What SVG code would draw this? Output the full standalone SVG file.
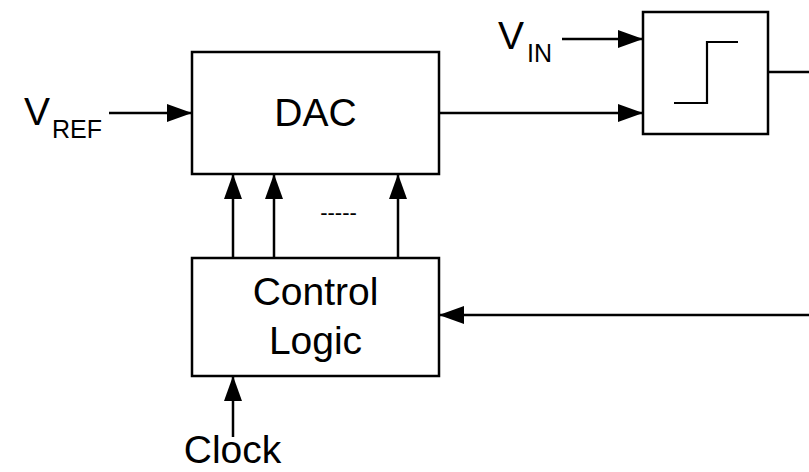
<svg xmlns="http://www.w3.org/2000/svg" width="809" height="472" viewBox="0 0 809 472">
<style>
.box{fill:#fff;stroke:#000;stroke-width:2.5}
.ln{fill:none;stroke:#000;stroke-width:2.5}
.t{font-family:"Liberation Sans",Arial,sans-serif;fill:#000}
</style>
<defs>
<marker id="ah" markerUnits="userSpaceOnUse" markerWidth="25" markerHeight="18" refX="25" refY="9" orient="auto">
<path d="M0,0 L25,9 L0,18 z" fill="#000"/>
</marker>
</defs>
<rect width="809" height="472" fill="#fff"/>
<g id="connectors">
<line class="ln" x1="109" y1="113" x2="192" y2="113" marker-end="url(#ah)"/>
<line class="ln" x1="562" y1="39" x2="643" y2="39" marker-end="url(#ah)"/>
<line class="ln" x1="439" y1="113" x2="643" y2="113" marker-end="url(#ah)"/>
<line class="ln" x1="768" y1="72" x2="809" y2="72"/>
<line class="ln" x1="233" y1="258" x2="233" y2="174" marker-end="url(#ah)"/>
<line class="ln" x1="274" y1="258" x2="274" y2="174" marker-end="url(#ah)"/>
<line class="ln" x1="398" y1="258" x2="398" y2="174" marker-end="url(#ah)"/>
<line class="ln" x1="809" y1="315" x2="439" y2="315" marker-end="url(#ah)"/>
<line class="ln" x1="233" y1="437" x2="233" y2="376" marker-end="url(#ah)"/>
<text class="t" x="338.5" y="220" font-size="22" text-anchor="middle">-----</text>
</g>
<g id="vref">
<text class="t" x="24" y="125" font-size="39">V</text>
<text class="t" x="52" y="138" font-size="25">REF</text>
</g>
<g id="vin">
<text class="t" x="498" y="49" font-size="39">V</text>
<text class="t" x="527" y="62" font-size="25">IN</text>
</g>
<g id="dac">
<rect class="box" x="192" y="52" width="247" height="122"/>
<text class="t" x="315.5" y="126" font-size="39" text-anchor="middle">DAC</text>
</g>
<g id="comparator">
<rect class="box" x="643" y="12" width="125" height="122"/>
<polyline fill="none" stroke="#000" stroke-width="2.2" points="674,103 707,103 707,42 738,42"/>
</g>
<g id="control">
<rect class="box" x="192" y="258" width="247" height="118"/>
<text class="t" x="315.5" y="305" font-size="39" text-anchor="middle">Control</text>
<text class="t" x="315.5" y="354" font-size="39" text-anchor="middle">Logic</text>
</g>
<g id="clock">
<text class="t" x="232.5" y="463" font-size="39" text-anchor="middle">Clock</text>
</g>
</svg>
